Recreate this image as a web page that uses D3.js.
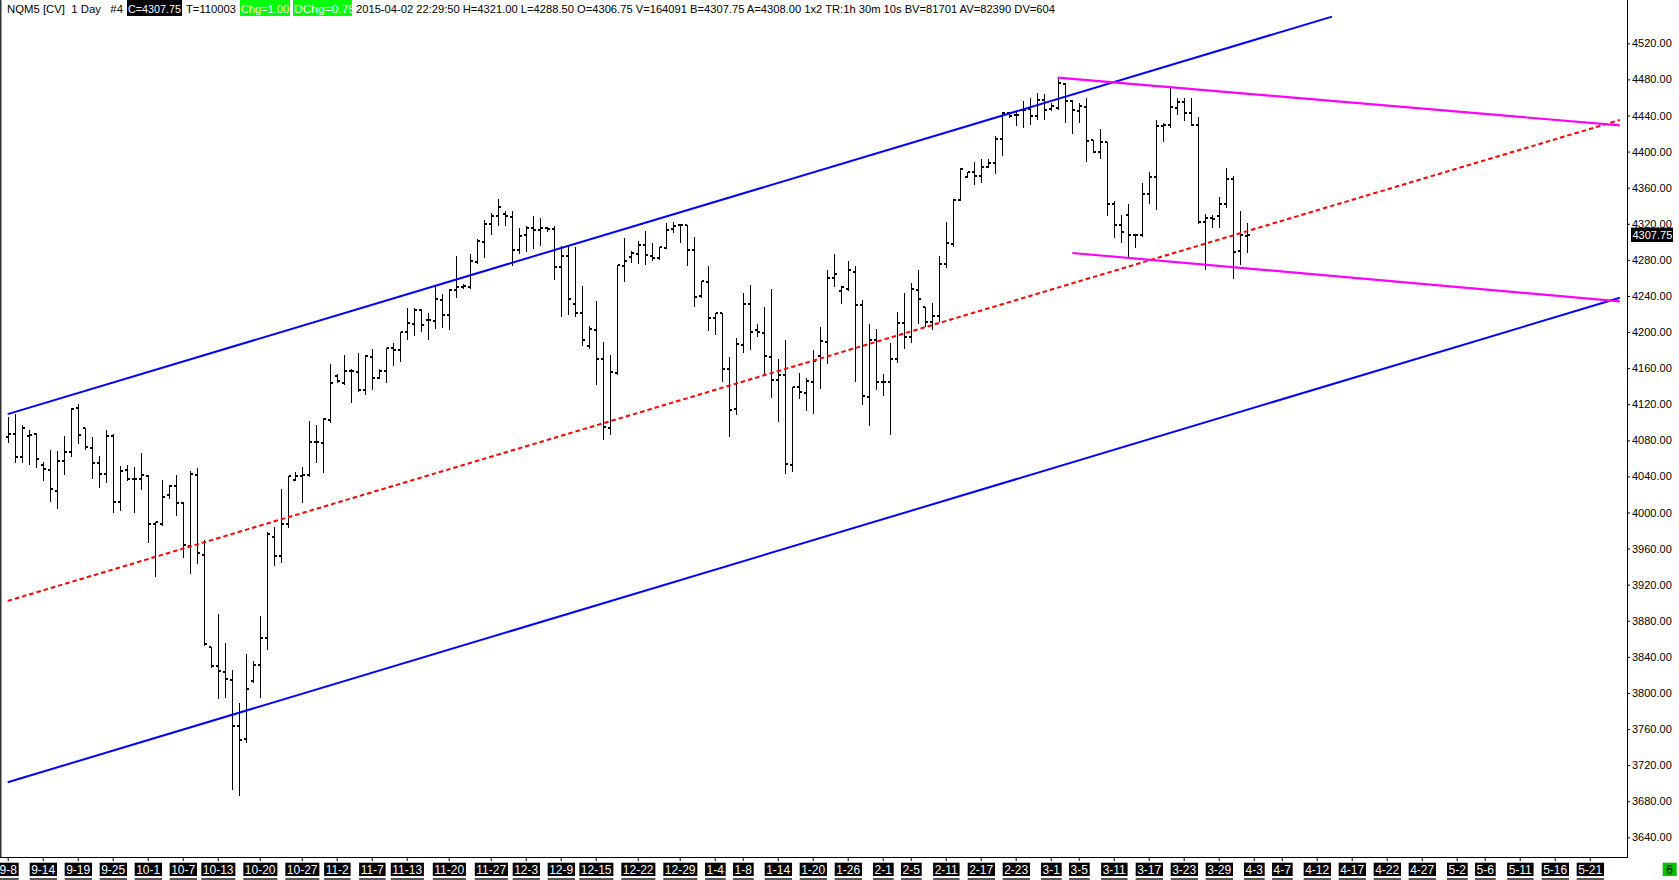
<!DOCTYPE html>
<html lang="en">
<head>
<meta charset="UTF-8">
<title>NQM5 [CV] 1 Day</title>
<style>
  html, body { margin: 0; padding: 0; background: #fff; }
  svg { display: block; }
  text { font-family: 'Liberation Sans', Arial, sans-serif; }
</style>
</head>
<body>
<svg id="chart" width="1679" height="880"></svg>
<script src="https://d3js.org/d3.v7.min.js"></script>
<script>
// daily bars, 2014-09-08 .. 2015-04-02 (index = bar number)
const opens = [
  4084, 4086.9, 4061.8, 4084.3, 4086.9, 4053, 4047, 4024.2, 4056.6, 4066.6,
  4115.6, 4093.1, 4071.4, 4054.8, 4042.7, 4084.6, 4012.1, 4047, 4037.1, 4037.1,
  4040.8, 3986.7, 3987.4, 4019.8, 4029.8, 4010.2, 3962.4, 4041.9, 3953.1, 3850.4,
  3829.7, 3823.3, 3813.9, 3763.4, 3748.7, 3813.6, 3830.5, 3861.4, 3972.7, 3951.7,
  3986.7, 4036.4, 4040.8, 4041.6, 4078.4, 4076.9, 4102.7, 4151.3, 4144, 4156.9,
  4155.8, 4135.9, 4172.7, 4149.5, 4156.9, 4181.9, 4180.1, 4199.9, 4208.4, 4224.3,
  4213.2, 4212.1, 4236, 4219.4, 4247.1, 4250, 4250, 4277.6, 4299.7, 4320,
  4328.8, 4331.1, 4327.4, 4291.3, 4307.1, 4315.2, 4312.6, 4315.2, 4314.1, 4271.8,
  4284.6, 4231.6, 4221.3, 4184.5, 4202.1, 4170.5, 4093.5, 4155, 4272.9, 4282.8,
  4286.5, 4296.8, 4284.6, 4282.1, 4293.1, 4314.5, 4318.2, 4318.2, 4290.5, 4239.7,
  4255.5, 4215.8, 4220.6, 4158.7, 4114.5, 4185.6, 4231.2, 4201.8, 4199.2, 4172.7,
  4146.9, 4152.1, 4052.6, 4139.5, 4132.9, 4145.1, 4173.4, 4189.3, 4260, 4246,
  4248.2, 4266.6, 4230.5, 4128.5, 4190.7, 4144.7, 4145, 4169.7, 4210.2, 4194.8,
  4247.1, 4227.5, 4211.3, 4218.3, 4275.8, 4297.5, 4346.5, 4372.3, 4377.8, 4373,
  4383.3, 4387, 4413.9, 4442.3, 4440.4, 4445.9, 4446.7, 4439.3, 4457.7, 4446.7,
  4448.5, 4475.4, 4456.3, 4445.2, 4448.9, 4412.8, 4399.5, 4411, 4341.7, 4318.1,
  4329.9, 4307.1, 4307.1, 4353.1, 4372.3, 4428.6, 4429.4, 4447.8, 4454.4, 4442.3,
  4429.4, 4321.8, 4326.2, 4328.1, 4342.1, 4369.7, 4289.4, 4306.75
];
const highs = [
  4106, 4109.7, 4096.8, 4091.3, 4087.6, 4055.5, 4069.2, 4068.4, 4085, 4116.3,
  4120, 4093.1, 4083.9, 4062.9, 4091.3, 4086.9, 4051.9, 4052.6, 4050.8, 4065.5,
  4041.9, 3989.2, 4036, 4030.8, 4041.9, 4011.3, 4045.6, 4049.3, 3969, 3851,
  3888, 3854.8, 3825.3, 3788.5, 3842.6, 3835.3, 3885, 3978.2, 3983.7, 4026.1,
  4040.8, 4044.5, 4050.1, 4100.9, 4096.8, 4104.2, 4164.2, 4153.9, 4174.2, 4158.7,
  4177.1, 4174.2, 4180.8, 4159.4, 4182.6, 4187.4, 4200.3, 4226.8, 4226.8, 4225,
  4221.3, 4250.8, 4242.7, 4247.8, 4284.6, 4253.3, 4286.9, 4303.4, 4324.4, 4331.8,
  4347.6, 4334.4, 4333.6, 4315.2, 4317.1, 4328.1, 4326.3, 4316, 4317.1, 4295,
  4295, 4294.2, 4251.5, 4206.6, 4234.9, 4189.3, 4174.2, 4274.7, 4304.2, 4289.4,
  4300.5, 4312.3, 4298.6, 4294.2, 4321, 4322, 4320, 4319, 4305.3, 4257,
  4273.6, 4221.3, 4221.3, 4172.7, 4193.7, 4243.4, 4252.6, 4208.4, 4227.9, 4247.8,
  4169.7, 4190.7, 4139.5, 4155, 4149.5, 4179.7, 4205.8, 4269.2, 4286.5, 4250.8,
  4279.1, 4272.9, 4235.3, 4208.4, 4203.6, 4153.1, 4188.1, 4222.4, 4243.4, 4254.4,
  4269.2, 4227.9, 4232.3, 4284.6, 4321.8, 4347.2, 4381.5, 4377.8, 4388.1, 4391.8,
  4391.8, 4417.2, 4444.1, 4444.1, 4443.4, 4455.9, 4459.9, 4464.4, 4463.3, 4453.3,
  4482, 4476.2, 4457.7, 4453.3, 4459.9, 4412.8, 4424.6, 4411, 4344.7, 4329.9,
  4342.1, 4308.9, 4365.7, 4377.1, 4434.9, 4432, 4472.5, 4459.9, 4459.9, 4459.9,
  4437.8, 4330.7, 4329.9, 4349.1, 4381.5, 4373, 4334.4, 4321
];
const lows = [
  4077.6, 4055.5, 4056.3, 4053.7, 4050.8, 4036.4, 4012.2, 4005.5, 4042.7, 4062.9,
  4076.9, 4070.3, 4037.9, 4028.7, 4034.2, 4000.3, 4003.2, 4036, 4000.3, 4026,
  3967.1, 3929.2, 3985.6, 4016, 3997.7, 3950.5, 3932.9, 3944, 3853, 3829,
  3794, 3795.1, 3693.8, 3687.2, 3745.1, 3812.5, 3795.1, 3848.5, 3941.4, 3945.1,
  3983.7, 4036.4, 4011.4, 4040.8, 4056.3, 4044.5, 4100.5, 4145.1, 4142.1, 4121.9,
  4134.8, 4131.8, 4137.3, 4149.5, 4144.7, 4163.5, 4167.9, 4191.9, 4197, 4201.1,
  4192.6, 4204.7, 4205.5, 4203.6, 4238.6, 4248.9, 4248.9, 4276.5, 4282.8, 4309,
  4318.9, 4318.2, 4274.7, 4287.6, 4289.4, 4293.1, 4296.8, 4311.5, 4259.2, 4217.6,
  4219.5, 4217.6, 4185.6, 4182.6, 4142.1, 4081.3, 4086.9, 4153.2, 4256.3, 4277.6,
  4276.5, 4275.4, 4280.2, 4281, 4293.1, 4310.8, 4299.7, 4274, 4228.7, 4238.6,
  4201.8, 4197.3, 4145.8, 4084.3, 4109.7, 4178.2, 4180.8, 4195.5, 4155, 4128.1,
  4101.6, 4043.4, 4045.6, 4126.6, 4113.7, 4110.8, 4138.4, 4166, 4250.8, 4232.3,
  4246.3, 4145.8, 4120, 4097.2, 4136.6, 4130.3, 4086.8, 4167.1, 4182.6, 4188.9,
  4210.2, 4206.5, 4202.9, 4212.1, 4272.1, 4295.7, 4346.5, 4371.5, 4364.2, 4366,
  4382.6, 4376.7, 4396.2, 4437.8, 4429.4, 4427.5, 4430.1, 4435.6, 4436, 4445.9,
  4446.7, 4433.1, 4420.2, 4433.1, 4390, 4399.9, 4392.5, 4329.2, 4304.9, 4299.4,
  4283.9, 4294.2, 4306, 4342.8, 4336.2, 4412.1, 4427.5, 4441.5, 4434.9, 4429.4,
  4320.7, 4270.3, 4315.9, 4315.9, 4338.4, 4259.9, 4275.8, 4288.5
];
const closes = [
  4087, 4061.8, 4093.1, 4086.1, 4059.2, 4048.2, 4026, 4057.4, 4067.3, 4115.2,
  4086.1, 4072.1, 4054.8, 4042.7, 4084.6, 4012.1, 4045.6, 4037.1, 4037.1, 4041.2,
  3986.7, 3989.2, 4017.6, 4029.8, 4011, 3963.5, 4042.7, 3955, 3854, 3829.7,
  3824, 3815, 3763.4, 3748, 3804.4, 3830.5, 3861.4, 3976.4, 3951.7, 3986.7,
  4040.1, 4040.8, 4041.6, 4078.4, 4077.7, 4103.5, 4143.2, 4145.8, 4156.9, 4156.9,
  4135.9, 4173.4, 4149.5, 4156.9, 4181.9, 4180.1, 4199.9, 4209.5, 4224.3, 4207.3,
  4212.8, 4236.8, 4219.4, 4247.1, 4249.7, 4250.8, 4278.4, 4300.5, 4320, 4328.8,
  4338.1, 4328.1, 4291.3, 4306.7, 4315.2, 4312.6, 4315.2, 4314.1, 4271.8, 4284.6,
  4237.1, 4221.3, 4191.1, 4202.9, 4170.5, 4095, 4155.7, 4274, 4279.1, 4287.6,
  4296.8, 4285, 4282.1, 4293.9, 4313.4, 4317.1, 4318.2, 4290.5, 4238.6, 4256.3,
  4215, 4220.6, 4158.7, 4113.7, 4187, 4231.6, 4199.9, 4199.9, 4173.4, 4146.9,
  4152.1, 4053.7, 4139.5, 4133.6, 4145.8, 4167.9, 4190, 4260, 4264.8, 4249.7,
  4268.4, 4229.8, 4129.2, 4190.7, 4144.7, 4144.7, 4169.7, 4210.2, 4194.8, 4247.8,
  4236.7, 4211, 4218.3, 4275.8, 4298.3, 4346.5, 4380.4, 4377.8, 4373, 4383.3,
  4387, 4413.9, 4442.3, 4439.3, 4440.4, 4445.9, 4439.3, 4457, 4445.9, 4450.4,
  4476.2, 4456.3, 4445.9, 4450.4, 4411.7, 4399.9, 4411, 4342.1, 4318.1, 4310.4,
  4307.1, 4307.1, 4353.1, 4372.3, 4428.6, 4429.4, 4449.6, 4455.2, 4443, 4429.4,
  4321.8, 4326.2, 4325.1, 4342.1, 4369.7, 4288.3, 4307.1, 4307.75
];

// date axis: label and the bar index it sits on
const tickLabels = ["9-8","9-14","9-19","9-25","10-1","10-7","10-13","10-20","10-27","11-2",
  "11-7","11-13","11-20","11-27","12-3","12-9","12-15","12-22","12-29","1-4",
  "1-8","1-14","1-20","1-26","2-1","2-5","2-11","2-17","2-23","3-1",
  "3-5","3-11","3-17","3-23","3-29","4-3","4-7","4-12","4-17","4-22",
  "4-27","5-2","5-6","5-11","5-16","5-21"];
const tickIdx = [0,5,10,15,20,25,30,36,42,47,
  52,57,63,69,74,79,84,90,96,101,
  105,110,115,120,125,129,134,139,144,149,
  153,158,163,168,173,178,182,187,192,197,
  202,207,211,216,221,226];
const monthLabel = "6";
const monthIdx = 237;

const priceTicks = [3640, 3680, 3720, 3760, 3800, 3840, 3880, 3920, 3960, 4000, 4040, 4080,
  4120, 4160, 4200, 4240, 4280, 4320, 4360, 4400, 4440, 4480, 4520];

// drawn study lines: start/end bar index and price
const trendNames = ["channelTop", "channelBottom", "channelMid", "wedgeTop", "wedgeBottom"];
const trendStartIdx = [0, 0, 0, 150, 152.1];
const trendStartPx = [4109, 3701, 3902, 4482, 4287.6];
const trendEndIdx = [189.2, 230.3, 230.3, 230.3, 230.3];
const trendEndPx = [4549.6, 4238, 4435, 4429, 4233.9];

const headerSegs = ["NQM5 [CV]  1 Day   #4", "C=4307.75", "T=110003", "Chg=1.00", "DChg=0.75",
  "2015-04-02 22:29:50 H=4321.00 L=4288.50 O=4306.75 V=164091 B=4307.75 A=4308.00 1x2 TR:1h 30m 10s BV=81701 AV=82390 DV=604"];

// ---- layout / style ----
const plotRight = 1627, plotBottom = 857;
const trendStyle = {
  channelTop:    { stroke: "#0000ff", width: 2, dash: null },
  channelBottom: { stroke: "#0000ff", width: 2, dash: null },
  channelMid:    { stroke: "#ff0000", width: 2, dash: "4.5,3" },
  wedgeTop:      { stroke: "#ff00ff", width: 2.2, dash: null },
  wedgeBottom:   { stroke: "#ff00ff", width: 2.2, dash: null }
};
const headerX = [7, 127, 186, 240, 293, 356];
const headerW = [116, 55, 50, 50, 59, 699];
const headerBg = [null, "#000", null, "#00ff00", "#00ff00", null];

const svg = d3.select("#chart");

const x = d3.scaleLinear().domain([0, 226]).range([7.7, 1589.7]);
const y = d3.scaleLinear().domain([3640, 4520]).range([837.3, 43.3]);

svg.append("defs").append("clipPath").attr("id", "plotClip")
  .append("rect").attr("x", 0).attr("y", 0).attr("width", plotRight).attr("height", plotBottom);

const plot = svg.append("g").attr("clip-path", "url(#plotClip)");

// OHLC bars
const bars = opens.map((o, i) => ({ i, o, h: highs[i], l: lows[i], c: closes[i] }));
const barG = plot.append("g").attr("shape-rendering", "crispEdges").attr("fill", "#000");
const bar = barG.selectAll("g").data(bars).join("g");
bar.append("rect")
  .attr("x", d => Math.round(x(d.i)))
  .attr("y", d => Math.round(y(d.h)))
  .attr("width", 1)
  .attr("height", d => Math.max(1, Math.round(y(d.l)) - Math.round(y(d.h)) + 1));
bar.append("rect")
  .attr("x", d => Math.round(x(d.i)) - 2)
  .attr("y", d => Math.round(y(d.o)) - 1)
  .attr("width", 2).attr("height", 2);
bar.append("rect")
  .attr("x", d => Math.round(x(d.i)) + 1)
  .attr("y", d => Math.round(y(d.c)) - 1)
  .attr("width", 2).attr("height", 2);

// trend lines
const trends = trendNames.map((n, k) => ({
  n, x1: trendStartIdx[k], p1: trendStartPx[k], x2: trendEndIdx[k], p2: trendEndPx[k]
}));
plot.append("g").selectAll("line").data(trends).join("line")
  .attr("x1", d => x(d.x1)).attr("y1", d => y(d.p1))
  .attr("x2", d => x(d.x2)).attr("y2", d => y(d.p2))
  .attr("stroke", d => trendStyle[d.n].stroke)
  .attr("stroke-width", d => trendStyle[d.n].width)
  .attr("stroke-dasharray", d => trendStyle[d.n].dash);

// frame
svg.append("rect").attr("x", 0).attr("y", 0).attr("width", 1.5).attr("height", plotBottom + 1).attr("fill", "#333");
svg.append("line").attr("x1", plotRight + 0.5).attr("x2", plotRight + 0.5).attr("y1", 0).attr("y2", plotBottom + 1)
  .attr("stroke", "#000").attr("stroke-width", 1);
svg.append("line").attr("x1", 0).attr("x2", plotRight + 1).attr("y1", plotBottom + 0.5).attr("y2", plotBottom + 0.5)
  .attr("stroke", "#000").attr("stroke-width", 1);

// price axis
const yAxis = d3.axisRight(y).tickValues(priceTicks).tickSize(3).tickPadding(2).tickFormat(d3.format(".2f"));
const gy = svg.append("g").attr("transform", `translate(${plotRight},0)`).call(yAxis);
gy.select(".domain").remove();
gy.attr("font-size", 11).attr("font-family", "'Liberation Sans', Arial, sans-serif");
gy.selectAll("text").attr("fill", "#000");
gy.selectAll("line").attr("stroke", "#000");

// last price marker
const last = closes[closes.length - 1];
svg.append("rect").attr("x", plotRight + 4).attr("y", y(last) - 7.2).attr("width", 42).attr("height", 14.4).attr("fill", "#000");
svg.append("text").attr("x", plotRight + 5.5).attr("y", y(last)).attr("dy", "0.35em")
  .attr("font-size", 11).attr("fill", "#fff").text(d3.format(".2f")(last));

// date axis
const xAxis = d3.axisBottom(x).tickValues(tickIdx).tickSize(4).tickPadding(4)
  .tickFormat((d, i) => tickLabels[i]);
const gx = svg.append("g").attr("transform", `translate(0,${plotBottom})`).call(xAxis);
gx.select(".domain").remove();
gx.attr("font-size", 12).attr("font-family", "'Liberation Sans', Arial, sans-serif");
gx.selectAll("line").attr("stroke", "#000");
gx.selectAll(".tick").each(function () {
  const t = d3.select(this).select("text");
  const b = t.node().getBBox();
  d3.select(this).insert("rect", "text")
    .attr("x", b.x - 1.5).attr("y", 5.7).attr("width", b.width + 3).attr("height", 13.3)
    .attr("fill", "#000");
  d3.select(this).append("rect")
    .attr("x", b.x - 1.5).attr("y", 21).attr("width", b.width + 3).attr("height", 2)
    .attr("fill", "#555");
});
gx.selectAll("text").attr("fill", "#fff");

// month marker in the price-axis column
svg.append("rect").attr("x", x(monthIdx) - 4).attr("y", plotBottom + 5.7).attr("width", 14).attr("height", 13.3)
  .attr("fill", "#00c000");
svg.append("text").attr("x", x(monthIdx) + 3).attr("y", plotBottom + 16.5)
  .attr("text-anchor", "middle").attr("font-size", 12).attr("fill", "#000").text(monthLabel);

// header line
const hdr = svg.append("g").attr("font-size", 11.5);
headerSegs.forEach((s, i) => {
  if (headerBg[i]) {
    hdr.append("rect").attr("x", headerX[i]).attr("y", 0).attr("width", headerW[i]).attr("height", 16)
      .attr("fill", headerBg[i]);
  }
  hdr.append("text")
    .attr("x", headerBg[i] ? headerX[i] + 1 : headerX[i])
    .attr("y", 13)
    .attr("style", "white-space: pre")
    .attr("textLength", headerBg[i] ? headerW[i] - (i === 4 ? -2 : 2) : headerW[i])
    .attr("lengthAdjust", "spacingAndGlyphs")
    .attr("fill", headerBg[i] ? "#fff" : "#000")
    .text(s);
});
</script>
</body>
</html>
